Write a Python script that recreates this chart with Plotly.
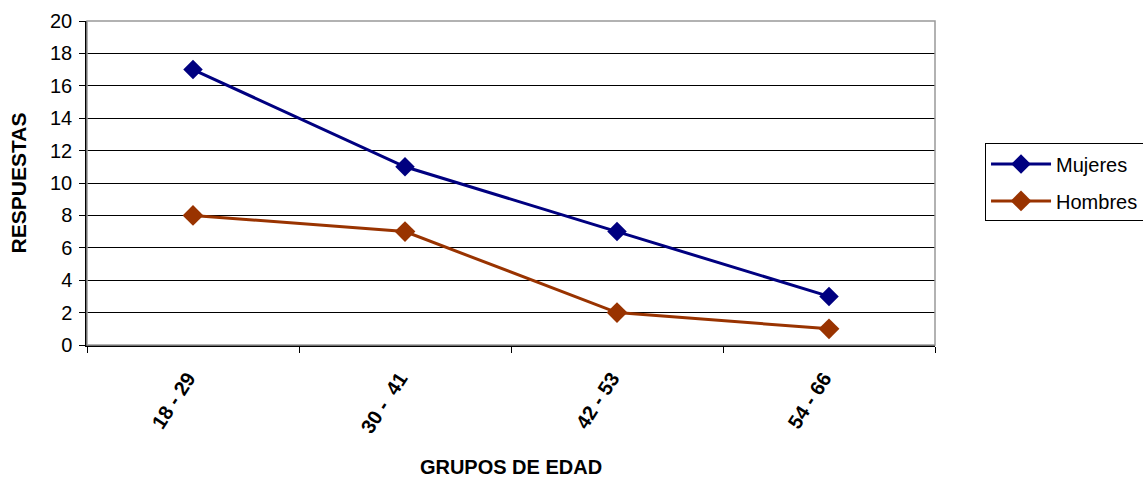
import plotly.graph_objects as go

categories = ["18 - 29", "30 -  41", "42 - 53", "54 - 66"]
mujeres = [17, 11, 7, 3]
hombres = [8, 7, 2, 1]
y_ticks = list(range(0, 21, 2))

fig = go.Figure()
fig.add_trace(go.Scatter(x=categories, y=mujeres, name="Mujeres", mode="lines+markers",
                         legendgroup="m",
                         line=dict(color="#000080", width=3),
                         marker=dict(symbol="diamond", size=15, color="#000080")))
fig.add_trace(go.Scatter(x=categories, y=hombres, name="Hombres", mode="lines+markers",
                         legendgroup="h",
                         line=dict(color="#993300", width=3),
                         marker=dict(symbol="diamond", size=16, color="#993300")))

fig.update_layout(
    width=1143, height=480,
    margin=dict(l=87, r=208, t=21, b=135, autoexpand=False),
    paper_bgcolor="white", plot_bgcolor="white",
    font=dict(family="Liberation Sans, Arial", color="black", size=20),
    showlegend=True,
    legend=dict(x=1.059, y=0.622, xanchor="left", yanchor="top",
                bordercolor="black", borderwidth=1, font=dict(size=20),
                tracegroupgap=8, itemwidth=60),
    shapes=[dict(type="rect", xref="paper", yref="paper", x0=0, x1=1, y0=0, y1=1,
                 line=dict(color="#999999", width=1.5), layer="above")],
)
fig.update_xaxes(type="category", range=[-0.5, 3.5], tickson="boundaries",
                 ticks="outside", ticklen=6, tickcolor="black",
                 showline=True, linecolor="black", linewidth=1.5,
                 showgrid=False, tickangle=-57, ticklabelstandoff=12, ticklabelshift=-5,
                 tickfont=dict(size=20, family="Liberation Sans, Arial", weight="bold"),
                 title=dict(text="<b>GRUPOS DE EDAD</b>", font=dict(size=20), standoff=24))
fig.update_yaxes(range=[0, 20], tickvals=y_ticks, ticks="outside", ticklen=6, tickcolor="black",
                 showline=True, linecolor="black", linewidth=1.5,
                 showgrid=True, gridcolor="black", gridwidth=1, zeroline=False,
                 tickfont=dict(size=20), ticklabelstandoff=3,
                 title=dict(text="<b>RESPUESTAS</b>", font=dict(size=21), standoff=18))

fig.write_html("out.html", config={"displayModeBar": False},
               post_script="document.body.style.margin='0';")
